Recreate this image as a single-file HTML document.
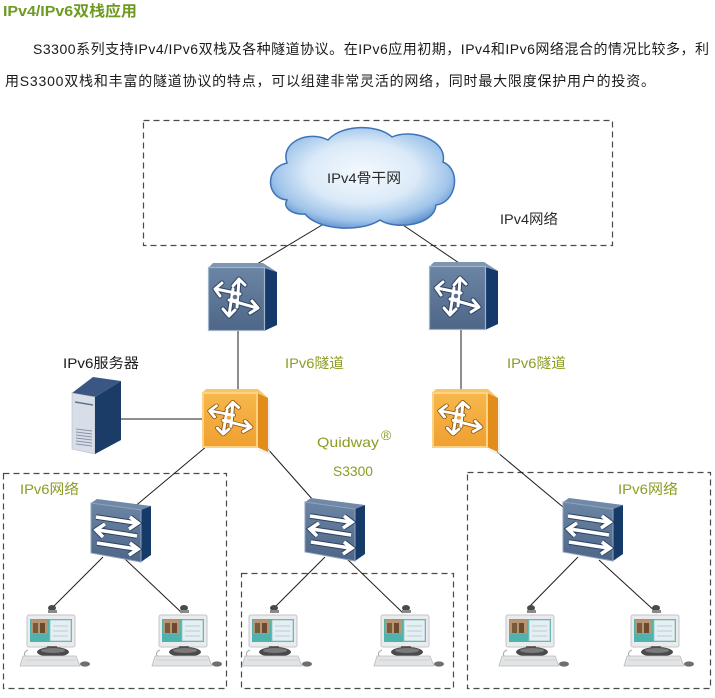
<!DOCTYPE html>
<html>
<head>
<meta charset="utf-8">
<style>
  html,body{margin:0;padding:0;background:#fff;}
  body{width:715px;height:698px;overflow:hidden;}
  svg{display:block;}
  text{font-family:"Liberation Sans","Noto Sans CJK SC",sans-serif;}
</style>
</head>
<body>
<svg width="715" height="698" viewBox="0 0 715 698" xmlns="http://www.w3.org/2000/svg">
  <defs>
    <radialGradient id="cloudG" cx="50%" cy="45%" r="60%">
      <stop offset="0" stop-color="#f4f9fe"/>
      <stop offset="0.5" stop-color="#dbeaf8"/>
      <stop offset="0.8" stop-color="#9fc4ea"/>
      <stop offset="1" stop-color="#4f84c8"/>
    </radialGradient>
    <linearGradient id="blueF" x1="0" y1="0" x2="0" y2="1">
      <stop offset="0" stop-color="#6c85a5"/>
      <stop offset="1" stop-color="#4e6687"/>
    </linearGradient>
    <linearGradient id="orF" x1="0" y1="0" x2="0" y2="1">
      <stop offset="0" stop-color="#f7b74c"/>
      <stop offset="1" stop-color="#efa030"/>
    </linearGradient>
    <g id="rArrows" fill="none" stroke-linecap="round" stroke-linejoin="round">
      <path d="M29 40 L31 13 M25 19 L31 12 L37 18"/>
      <path d="M32 27 L8 22 M14 16 L7 22 L12 29"/>
      <path d="M25 22 L21 48 M15 42 L21 49 L27 43"/>
      <path d="M21 33 L49 41 M44 34 L50 41 L42 46"/>
    </g>
    <g id="sArrows" fill="none" stroke-linecap="butt" stroke-linejoin="miter">
      <path d="M5 14 L45 20 M39 14 L47 20 L38 26"/>
      <path d="M46 33 L7 27 M14 21 L5 27 L12 34"/>
      <path d="M6 40 L45 46 M39 40 L47 46 L38 52"/>
    </g>
    <g id="pc">
      <ellipse cx="32" cy="4" rx="4" ry="3" fill="#4a4a4a"/>
      <rect x="28" y="6" width="9" height="3" fill="#8a8a8a"/>
      <rect x="7" y="11" width="48" height="32" rx="2" fill="#e9ebed" stroke="#c4c6c8" stroke-width="1"/>
      <rect x="10" y="15" width="42" height="23" fill="#4fb2ad"/>
      <rect x="11" y="16" width="17" height="14" fill="#b89572"/>
      <rect x="13" y="19" width="5" height="10" fill="#7a5a3c"/>
      <rect x="20" y="19" width="5" height="10" fill="#6b4a30"/>
      <rect x="30" y="16" width="21" height="21" fill="#e6eef2" stroke="#8cc6c4" stroke-width="0.8"/>
      <line x1="33" y1="22" x2="48" y2="22" stroke="#b8ccd6" stroke-width="1"/>
      <line x1="33" y1="27" x2="48" y2="27" stroke="#b8ccd6" stroke-width="1"/>
      <line x1="33" y1="32" x2="48" y2="32" stroke="#b8ccd6" stroke-width="1"/>
      <rect x="27" y="42" width="10" height="4" fill="#6a6a6a"/>
      <ellipse cx="33" cy="48" rx="16" ry="5" fill="#4a4a4a"/>
      <ellipse cx="33" cy="46.5" rx="12" ry="2.5" fill="#7a7a7a"/>
      <path d="M8 46 Q3 48 5 52" fill="none" stroke="#aaa" stroke-width="1"/>
      <polygon points="3,52 56,52 60,62 0,62" fill="#e2e3e4" stroke="#b9bbbd" stroke-width="0.8"/>
      <line x1="5" y1="56" x2="56" y2="56" stroke="#cfd1d3" stroke-width="1"/>
      <ellipse cx="65" cy="60" rx="5" ry="2.6" fill="#6f6f6f"/>
    </g>
  </defs>

  <!-- Header text -->
  <text x="3" y="16" font-size="15" font-weight="bold" fill="#6e9a22" textLength="134" lengthAdjust="spacingAndGlyphs">IPv4/IPv6双栈应用</text>
  <text x="33" y="54" font-size="14" fill="#1a1a1a" textLength="676" lengthAdjust="spacing">S3300系列支持IPv4/IPv6双栈及各种隧道协议。在IPv6应用初期，IPv4和IPv6网络混合的情况比较多，利</text>
  <text x="5" y="86" font-size="14" fill="#1a1a1a" textLength="650" lengthAdjust="spacing">用S3300双栈和丰富的隧道协议的特点，可以组建非常灵活的网络，同时最大限度保护用户的投资。</text>

  <!-- Dashed boxes -->
  <g fill="none" stroke="#4a4a4a" stroke-width="1.2" stroke-dasharray="6 4">
    <rect x="143.5" y="120.5" width="469" height="125"/>
    <rect x="3.5" y="473.5" width="223" height="215"/>
    <rect x="241.5" y="573.5" width="212" height="115"/>
    <rect x="467.5" y="472.5" width="243" height="216"/>
  </g>

  <!-- Connectors -->
  <g stroke="#1e1e1e" stroke-width="1">
    <line x1="342" y1="213" x2="252" y2="267"/>
    <line x1="400" y1="223" x2="462" y2="265"/>
    <line x1="238" y1="330" x2="238" y2="392"/>
    <line x1="461" y1="330" x2="461" y2="392"/>
    <line x1="121" y1="419" x2="202" y2="419"/>
    <line x1="207" y1="446" x2="133" y2="508"/>
    <line x1="266" y1="447" x2="313" y2="500"/>
    <line x1="497" y1="452" x2="563" y2="507"/>
    <line x1="103" y1="557" x2="50" y2="610"/>
    <line x1="125" y1="559" x2="182" y2="613"/>
    <line x1="325" y1="557" x2="272" y2="610"/>
    <line x1="345" y1="557" x2="403" y2="613"/>
    <line x1="578" y1="557" x2="528" y2="608"/>
    <line x1="599" y1="560" x2="657" y2="613"/>
  </g>

  <!-- Cloud -->
  <path d="M287 200 C266 198 264 168 287 163 C280 142 308 130 328 140 C342 124 378 124 392 137 C412 128 448 140 443 162 C462 170 456 203 436 205 C434 226 395 230 380 220 C360 233 318 230 305 214 C293 215 282 208 287 200 Z" fill="url(#cloudG)" stroke="#3e73b8" stroke-width="1.5"/>
  <text x="327" y="183" font-size="14" fill="#2a2a2a" textLength="74" lengthAdjust="spacingAndGlyphs">IPv4骨干网</text>
  <text x="500" y="224" font-size="14" fill="#2a2a2a" textLength="58" lengthAdjust="spacingAndGlyphs">IPv4网络</text>

  <!-- Blue routers -->
  <g transform="translate(208,267)">
    <polygon points="0,1 5,-4 55,-4 69,5 56,1" fill="#7f96b3"/>
    <polygon points="56,1 69,5 69,58 56,64" fill="#15396a"/>
    <rect x="0.5" y="0.5" width="56" height="63" fill="url(#blueF)" stroke="#9fb3c9" stroke-width="1.2"/>
    <use href="#rArrows" stroke="#2d4262" stroke-width="5"/>
    <use href="#rArrows" stroke="#ffffff" stroke-width="3"/>
    <circle cx="27" cy="30" r="3.2" fill="#5b7394" stroke="#fff" stroke-width="1.8"/>
  </g>
  <g transform="translate(429,266)">
    <polygon points="0,1 5,-4 55,-4 69,5 56,1" fill="#7f96b3"/>
    <polygon points="56,1 69,5 69,58 56,64" fill="#15396a"/>
    <rect x="0.5" y="0.5" width="56" height="63" fill="url(#blueF)" stroke="#9fb3c9" stroke-width="1.2"/>
    <use href="#rArrows" stroke="#2d4262" stroke-width="5"/>
    <use href="#rArrows" stroke="#ffffff" stroke-width="3"/>
    <circle cx="27" cy="30" r="3.2" fill="#5b7394" stroke="#fff" stroke-width="1.8"/>
  </g>

  <!-- Orange routers -->
  <g transform="translate(202,392)">
    <polygon points="57,3 68,9 68,63 57,59" fill="#e6e6e6" opacity="0.6"/>
    <polygon points="0,1 4,-3 56,-3 66,6 55,1" fill="#f9c667"/>
    <polygon points="55,1 66,6 66,60 55,55" fill="#e28c1c"/>
    <rect x="1" y="1" width="54" height="54" fill="url(#orF)" stroke="#fbd383" stroke-width="2"/>
    <g transform="translate(1,0) scale(0.96,0.86)">
      <use href="#rArrows" stroke="#8a5210" stroke-width="5"/>
      <use href="#rArrows" stroke="#ffffff" stroke-width="3.2"/>
      <circle cx="27" cy="30" r="3.2" fill="#f0a436" stroke="#fff" stroke-width="1.8"/>
    </g>
  </g>
  <g transform="translate(432,392)">
    <polygon points="57,3 68,9 68,63 57,59" fill="#e6e6e6" opacity="0.6"/>
    <polygon points="0,1 4,-3 56,-3 66,6 55,1" fill="#f9c667"/>
    <polygon points="55,1 66,6 66,60 55,55" fill="#e28c1c"/>
    <rect x="1" y="1" width="54" height="54" fill="url(#orF)" stroke="#fbd383" stroke-width="2"/>
    <g transform="translate(1,0) scale(0.96,0.86)">
      <use href="#rArrows" stroke="#8a5210" stroke-width="5"/>
      <use href="#rArrows" stroke="#ffffff" stroke-width="3.2"/>
      <circle cx="27" cy="30" r="3.2" fill="#f0a436" stroke="#fff" stroke-width="1.8"/>
    </g>
  </g>

  <!-- Server -->
  <polygon points="72,393 93,377 121,381 95,397" fill="#3a5783"/>
  <polygon points="72,393 95,397 95,454 72,449" fill="#d8dee7" stroke="#b3bdca" stroke-width="0.6"/>
  <polygon points="95,397 121,381 121,440 95,454" fill="#1c3c68"/>
  <line x1="75" y1="402" x2="93" y2="405" stroke="#5f7594" stroke-width="1.6"/>
  <g stroke="#8795aa" stroke-width="1">
    <line x1="76" y1="429" x2="92" y2="431"/>
    <line x1="76" y1="432" x2="92" y2="434"/>
    <line x1="76" y1="435" x2="92" y2="437"/>
    <line x1="76" y1="438" x2="92" y2="440"/>
    <line x1="76" y1="441" x2="92" y2="443"/>
    <line x1="76" y1="444" x2="92" y2="446"/>
  </g>

  <!-- Labels -->
  <text x="63" y="368" font-size="14" fill="#1a1a1a" textLength="76" lengthAdjust="spacingAndGlyphs">IPv6服务器</text>
  <text x="285" y="368" font-size="14" fill="#8d9c22" textLength="59" lengthAdjust="spacingAndGlyphs">IPv6隧道</text>
  <text x="507" y="368" font-size="14" fill="#8d9c22" textLength="59" lengthAdjust="spacingAndGlyphs">IPv6隧道</text>
  <text x="317" y="447" font-size="14" fill="#8d9c22" textLength="62" lengthAdjust="spacingAndGlyphs">Quidway</text>
  <text x="381" y="440" font-size="14" fill="#8d9c22">®</text>
  <text x="333" y="476" font-size="14" fill="#8d9c22" textLength="40" lengthAdjust="spacingAndGlyphs">S3300</text>
  <text x="20" y="494" font-size="14" fill="#8d9c22" textLength="59" lengthAdjust="spacingAndGlyphs">IPv6网络</text>
  <text x="618" y="494" font-size="14" fill="#8d9c22" textLength="60" lengthAdjust="spacingAndGlyphs">IPv6网络</text>

  <!-- Switches -->
  <g transform="translate(91,503)">
    <polygon points="0,0 6,-4 60,3 50,7" fill="#7189a9"/>
    <polygon points="50,7 60,3 60,52 50,59" fill="#163b68"/>
    <polygon points="0,0 50,7 50,59 0,50" fill="url(#blueF)" stroke="#90a4bc" stroke-width="1"/>
    <use href="#sArrows" stroke="#2d4262" stroke-width="5.5"/>
    <use href="#sArrows" stroke="#ffffff" stroke-width="3.6"/>
  </g>
  <g transform="translate(305,502)">
    <polygon points="0,0 6,-4 60,3 50,7" fill="#7189a9"/>
    <polygon points="50,7 60,3 60,52 50,59" fill="#163b68"/>
    <polygon points="0,0 50,7 50,59 0,50" fill="url(#blueF)" stroke="#90a4bc" stroke-width="1"/>
    <use href="#sArrows" stroke="#2d4262" stroke-width="5.5"/>
    <use href="#sArrows" stroke="#ffffff" stroke-width="3.6"/>
  </g>
  <g transform="translate(563,502)">
    <polygon points="0,0 6,-4 60,3 50,7" fill="#7189a9"/>
    <polygon points="50,7 60,3 60,52 50,59" fill="#163b68"/>
    <polygon points="0,0 50,7 50,59 0,50" fill="url(#blueF)" stroke="#90a4bc" stroke-width="1"/>
    <use href="#sArrows" stroke="#2d4262" stroke-width="5.5"/>
    <use href="#sArrows" stroke="#ffffff" stroke-width="3.6"/>
  </g>

  <!-- PCs -->
  <use href="#pc" x="20" y="604"/>
  <use href="#pc" x="152" y="604"/>
  <use href="#pc" x="242" y="604"/>
  <use href="#pc" x="374" y="604"/>
  <use href="#pc" x="499" y="604"/>
  <use href="#pc" x="624" y="604"/>
</svg>
</body>
</html>
